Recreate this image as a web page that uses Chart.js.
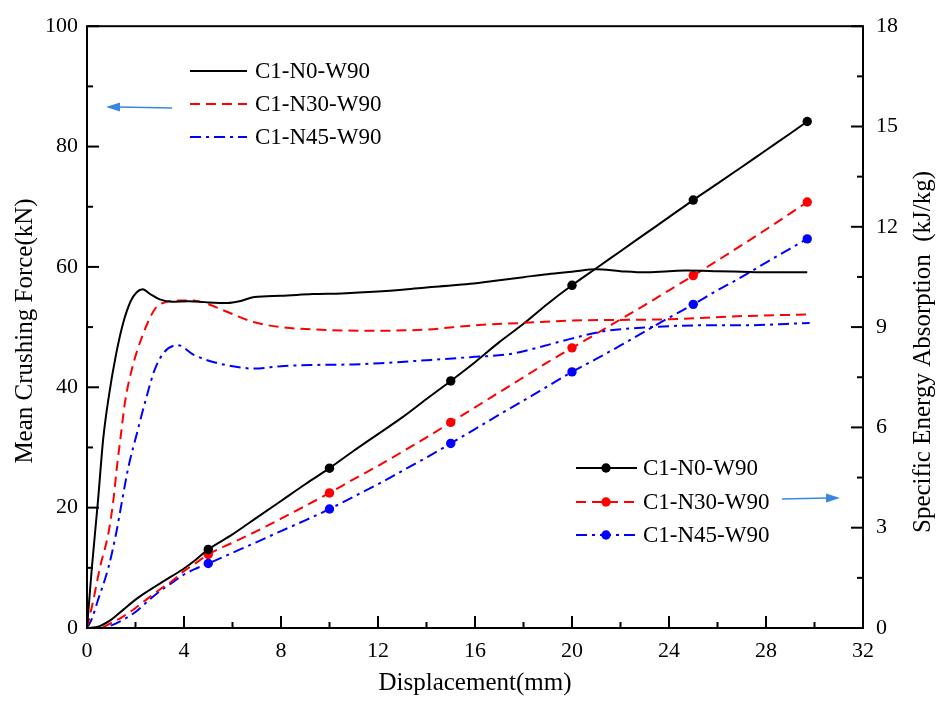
<!DOCTYPE html>
<html><head><meta charset="utf-8">
<script src="https://cdn.jsdelivr.net/npm/chart.js@4/dist/chart.umd.min.js"></script>
<style>html,body{margin:0;padding:0;background:#fff;overflow:hidden}#wrap{width:946px;height:705px}</style>
</head><body><div id="wrap"><canvas id="c" width="946" height="705"></canvas></div>
<script>
// ---------- data ----------
const seriesNames = ['C1-N0-W90', 'C1-N30-W90', 'C1-N45-W90'];

// Mean crushing force (kN) vs displacement (mm)
const forceX_N0  = [0,0.1,0.2,0.45,0.67,0.9,1.2,1.5,1.8,2.05,2.3,2.6,3.0,3.5,4.2,5,5.8,6.3,6.9,8,9.3,10.5,12,13,14,15,15.8,17,18,19,20,21,22,23,24,24.7,26,27,28,29.7];
const force_N0   = [0,5,10,21,31.5,38.5,45.5,50.8,54.3,55.8,56.3,55.5,54.6,54.2,54.3,54.1,54.0,54.3,55.0,55.2,55.5,55.6,55.9,56.2,56.6,56.9,57.2,57.8,58.3,58.8,59.2,59.6,59.3,59.1,59.3,59.4,59.3,59.2,59.1,59.1];
const forceX_N30 = [0,0.26,0.53,0.88,1.08,1.23,1.4,1.57,1.85,2.3,2.8,3.2,3.8,4.4,5,5.8,6.9,8,10,12,14,16,18,20,22,24,26.8,29.7];
const force_N30  = [0,4.6,10,15.7,21,26.6,32.2,37.6,43,48.7,53,54.1,54.4,54.4,53.8,52.5,50.8,50.0,49.5,49.4,49.6,50.3,50.7,51.1,51.2,51.3,51.8,52.1];
const forceX_N45 = [0,0.2,0.45,0.88,1.2,1.44,1.7,2.05,2.4,2.8,3.2,3.75,4.4,5.2,6,6.9,8,9.3,11,12.1,14,15.8,17.4,18.5,19.9,21.3,23.3,25.4,27,29.8];
const force_N45  = [0,1.5,4.6,10,15.7,21,26.6,32.2,37.6,43,45.9,47,45.4,44.2,43.5,43.1,43.5,43.7,43.8,44,44.5,45,45.5,46.5,48,49.3,50,50.3,50.3,50.7];

// Specific energy absorption (kJ/kg) vs displacement (mm)
const energyX    = [0,0.5,1,1.5,2,2.5,3,3.5,4,4.5,5,6,7,8,9,10,11,12,13,14,15,16,17,18,19,20,21,22,23,24,25,26,27,28,29,29.7];
const energy_N0  = [0,0.05,0.25,0.55,0.85,1.1,1.33,1.55,1.78,2.05,2.35,2.8,3.3,3.8,4.3,4.78,5.3,5.8,6.3,6.85,7.39,7.95,8.55,9.1,9.7,10.25,10.76,11.27,11.78,12.29,12.8,13.29,13.79,14.29,14.79,15.15];
const energy_N30 = [0,0,0.15,0.35,0.6,0.88,1.15,1.4,1.7,1.95,2.2,2.55,2.9,3.27,3.65,4.04,4.45,4.85,5.27,5.7,6.15,6.6,7.05,7.5,7.95,8.38,8.8,9.23,9.66,10.1,10.54,10.99,11.45,11.92,12.4,12.74];
const energy_N45 = [0,0,0.08,0.25,0.48,0.8,1.1,1.35,1.6,1.78,1.93,2.25,2.57,2.9,3.22,3.56,3.93,4.3,4.7,5.1,5.52,5.95,6.38,6.8,7.23,7.66,8.05,8.45,8.87,9.28,9.68,10.1,10.5,10.93,11.35,11.64];
const markerX    = [5,10,15,20,25,29.7];

// axis ticks
const xTicks  = [0,4,8,12,16,20,24,28,32];
const yTicks  = [0,20,40,60,80,100];
const y2Ticks = [0,3,6,9,12,15,18];

// ---------- styling ----------
const FONT = '"Liberation Serif","Times New Roman",serif';
const colors = ['#000000', '#ff0000', '#0000ff'];
const dashes = [[], [10,6], [11,5,3,5]];
const ARROW = '#3a86e0';

const pts = (xs, ys) => xs.map((x, i) => ({x, y: ys[i]}));
const forceSets = [[forceX_N0, force_N0], [forceX_N30, force_N30], [forceX_N45, force_N45]];
const energySets = [energy_N0, energy_N30, energy_N45];

const datasets = [];
forceSets.forEach((s, i) => datasets.push({
  label: seriesNames[i] + ' force', data: pts(s[0], s[1]), yAxisID: 'y',
  borderColor: colors[i], backgroundColor: colors[i], borderWidth: 2, borderDash: dashes[i],
  pointRadius: 0, cubicInterpolationMode: 'monotone', fill: false
}));
energySets.forEach((e, i) => datasets.push({
  label: seriesNames[i] + ' SEA', data: pts(energyX, e), yAxisID: 'y2',
  borderColor: colors[i], backgroundColor: colors[i], borderWidth: 2, borderDash: dashes[i],
  pointRadius: ctx => (ctx.raw && markerX.includes(ctx.raw.x)) ? 4.7 : 0,
  pointBorderWidth: 0, pointHoverRadius: 0,
  cubicInterpolationMode: 'monotone', fill: false
}));

function drawArrow(ctx, x1, y1, x2, y2) {
  const dir = Math.sign(x2 - x1);
  ctx.save();
  ctx.strokeStyle = ARROW; ctx.fillStyle = ARROW; ctx.lineWidth = 1.3;
  ctx.beginPath(); ctx.moveTo(x1, y1); ctx.lineTo(x2 - dir * 12, y2); ctx.stroke();
  ctx.beginPath(); ctx.moveTo(x2, y2); ctx.lineTo(x2 - dir * 14, y2 - 4.5); ctx.lineTo(x2 - dir * 14, y2 + 4.5); ctx.closePath(); ctx.fill();
  ctx.restore();
}

const decor = {
  id: 'decor',
  afterDraw(chart) {
    const ctx = chart.ctx;
    const {left, right, top, bottom} = chart.chartArea;
    const sx = chart.scales.x, sy = chart.scales.y, sy2 = chart.scales.y2;
    ctx.save();
    ctx.strokeStyle = '#000'; ctx.lineWidth = 2; ctx.setLineDash([]);
    ctx.strokeRect(left, top, right - left, bottom - top);
    for (let v = sx.min; v <= sx.max + 1e-9; v += 2) {
      const p = sx.getPixelForValue(v); const L = (v % 4 === 0) ? 12 : 6;
      ctx.beginPath(); ctx.moveTo(p, bottom); ctx.lineTo(p, bottom - L); ctx.stroke();
    }
    for (let v = sy.min; v <= sy.max + 1e-9; v += 10) {
      const p = sy.getPixelForValue(v); const L = (v % 20 === 0) ? 12 : 6;
      ctx.beginPath(); ctx.moveTo(left, p); ctx.lineTo(left + L, p); ctx.stroke();
    }
    for (let k = 0; k * 1.5 <= sy2.max + 1e-9; k++) {
      const v = k * 1.5; const p = sy2.getPixelForValue(v); const L = (k % 2 === 0) ? 12 : 6;
      ctx.beginPath(); ctx.moveTo(right, p); ctx.lineTo(right - L, p); ctx.stroke();
    }
    // axis titles
    ctx.fillStyle = '#000'; ctx.textAlign = 'center'; ctx.textBaseline = 'middle';
    ctx.font = '25px ' + FONT;
    ctx.fillText('Displacement(mm)', (left + right) / 2, 683);
    ctx.save(); ctx.translate(25, 331); ctx.rotate(-Math.PI / 2);
    ctx.fillText('Mean Crushing Force(kN)', 0, 0); ctx.restore();
    ctx.save(); ctx.translate(923, 352); ctx.rotate(-Math.PI / 2);
    ctx.fillText('Specific Energy Absorption  (kJ/kg)', 0, 0); ctx.restore();

    // legends
    ctx.font = '23px ' + FONT; ctx.textAlign = 'left';
    const rows1 = [71, 104, 137];
    seriesNames.forEach((n, i) => {
      ctx.strokeStyle = colors[i]; ctx.lineWidth = 2; ctx.setLineDash(dashes[i]);
      ctx.beginPath(); ctx.moveTo(190, rows1[i]); ctx.lineTo(247, rows1[i]); ctx.stroke();
      ctx.setLineDash([]); ctx.fillStyle = '#000';
      ctx.fillText(n, 255, rows1[i] + 1);
    });
    const rows2 = [468, 502, 535];
    seriesNames.forEach((n, i) => {
      ctx.strokeStyle = colors[i]; ctx.lineWidth = 2; ctx.setLineDash(dashes[i]);
      ctx.beginPath(); ctx.moveTo(576, rows2[i]); ctx.lineTo(637, rows2[i]); ctx.stroke();
      ctx.setLineDash([]); ctx.fillStyle = colors[i];
      ctx.beginPath(); ctx.arc(606, rows2[i], 4.7, 0, Math.PI * 2); ctx.fill();
      ctx.fillStyle = '#000';
      ctx.fillText(n, 643, rows2[i] + 1);
    });
    drawArrow(ctx, 172, 108, 106, 107);
    drawArrow(ctx, 782, 499, 840, 498);
    ctx.restore();
  }
};

new Chart(document.getElementById('c'), {
  type: 'line',
  data: { datasets },
  options: {
    responsive: false, animation: false, devicePixelRatio: 1,
    layout: { padding: { top: 22, left: 0, right: 0, bottom: 0 } },
    plugins: { legend: { display: false }, tooltip: { enabled: false } },
    scales: {
      x: {
        type: 'linear', position: 'bottom', min: 0, max: 32,
        afterBuildTicks: s => { s.ticks = xTicks.map(v => ({value: v})); },
        afterFit: s => { s.height = 77; },
        grid: { display: false, drawTicks: false }, border: { display: false },
        ticks: { font: { family: FONT, size: 22 }, color: '#000', padding: 10, maxRotation: 0 }
      },
      y: {
        type: 'linear', position: 'left', min: 0, max: 100,
        afterBuildTicks: s => { s.ticks = yTicks.map(v => ({value: v})); },
        afterFit: s => { s.width = 87; },
        grid: { display: false, drawTicks: false }, border: { display: false },
        ticks: { font: { family: FONT, size: 22 }, color: '#000', padding: 9 }
      },
      y2: {
        type: 'linear', position: 'right', min: 0, max: 18,
        afterBuildTicks: s => { s.ticks = y2Ticks.map(v => ({value: v})); },
        afterFit: s => { s.width = 83; },
        grid: { display: false, drawTicks: false }, border: { display: false },
        ticks: { font: { family: FONT, size: 22 }, color: '#000', padding: 13 }
      }
    }
  },
  plugins: [decor]
});
</script></body></html>
